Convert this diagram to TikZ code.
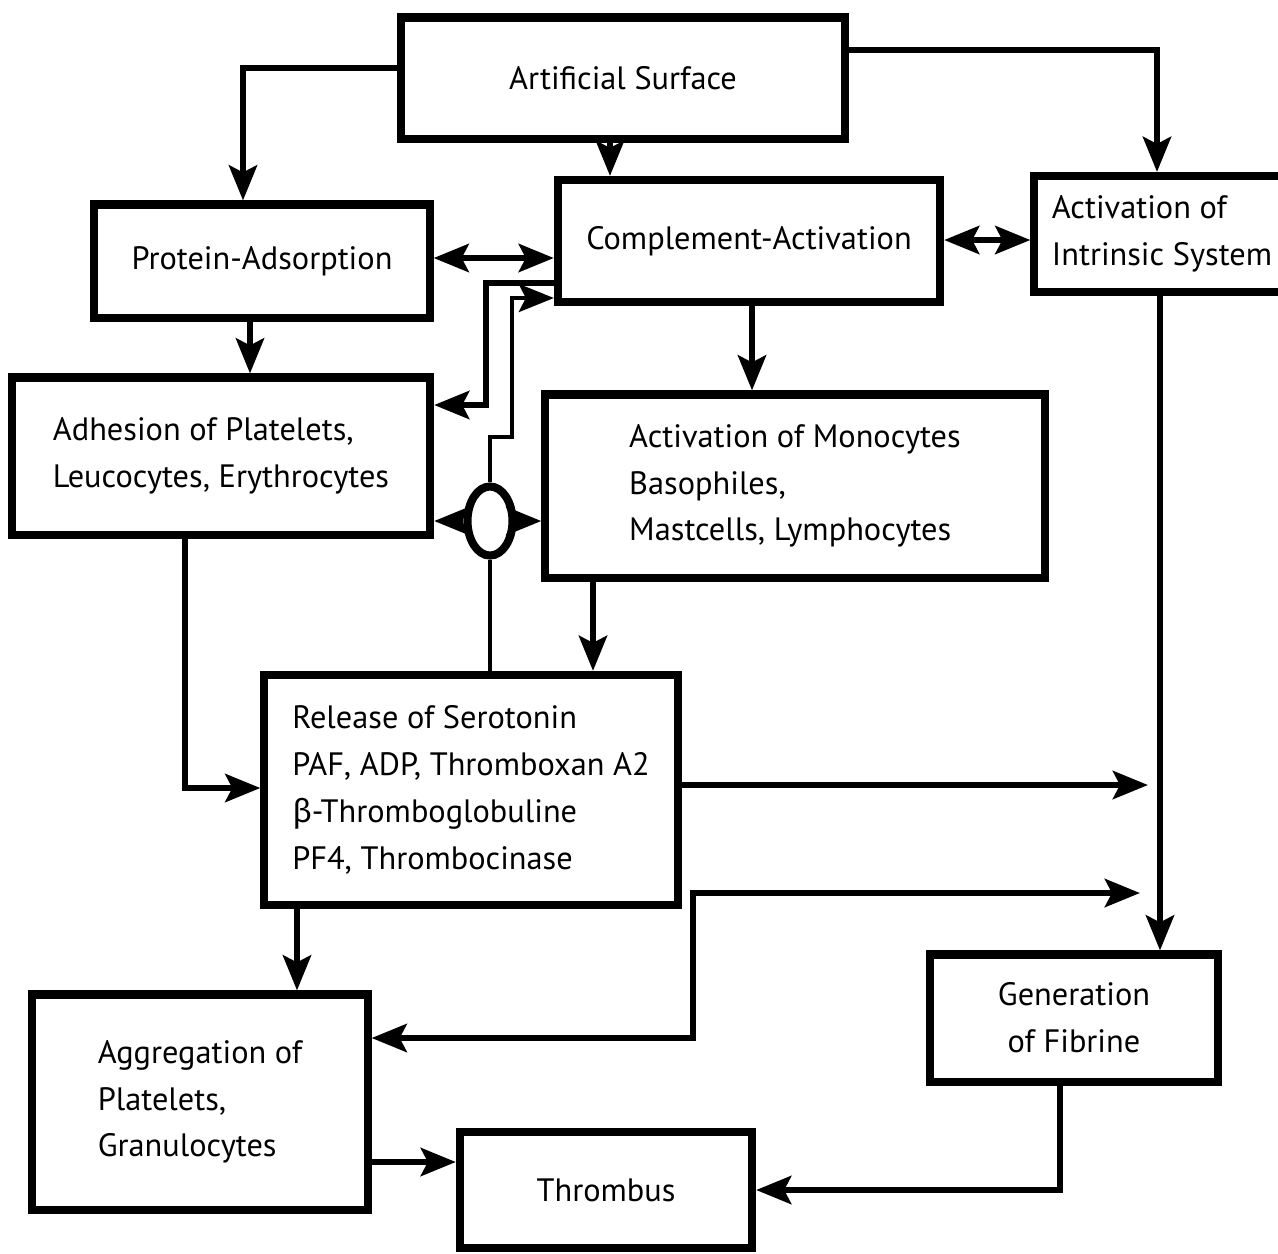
\documentclass[tikz,border=0pt]{standalone}
\usepackage{fontspec}
\setmainfont{PT Sans}
\newfontfamily\greekfont{Fira Sans}
\usetikzlibrary{arrows.meta,
	shapes.geometric}

\begin{document}
\begin{tikzpicture}[x=0.01cm, y=-0.01cm, >={Stealth[length=3.5mm,width=2.8mm,inset=0.7mm]}]
    \tikzstyle{box}=[draw, line width=2.3pt, rectangle, align=left, inner sep=0pt, font=\fontsize{9.2}{13.3}\selectfont]
    \tikzstyle{conn}=[line width=1.8pt]
    \tikzstyle{thinconn}=[line width=1.1pt]
    \useasboundingbox (0,0) rectangle (1278,1253);
    \node[box, minimum width=4.43cm, minimum height=1.21cm] (art) at (623,78) {Artificial Surface};
    \node[box, minimum width=3.35cm, minimum height=1.13cm] (prot) at (262,261) {Protein-Adsorption};
    \node[box, minimum width=3.82cm, minimum height=1.22cm] (comp) at (749,241) {Complement-Activation};
    \node[box, minimum width=2.55cm, minimum height=1.16cm] (intr) at (1162,234) {Activation of\\Intrinsic System};
    \node[box, minimum width=4.18cm, minimum height=1.57cm] (adh) at (221,456) {Adhesion of Platelets,\\Leucocytes, Erythrocytes};
    \node[box, minimum width=4.99cm, minimum height=1.83cm] (mono) at (795,486) {Activation of Monocytes\\Basophiles,\\Mastcells, Lymphocytes};
    \node[box, minimum width=4.13cm, minimum height=2.30cm] (rel) at (471,790) {Release of Serotonin\\PAF, ADP, Thromboxan A2\\{\greekfont β}-Thromboglobuline\\PF4, Thrombocinase};
    \node[box, minimum width=3.35cm, minimum height=2.15cm] (agg) at (200,1102) {Aggregation of\\Platelets,\\Granulocytes};
    \node[box, minimum width=2.92cm, minimum height=1.16cm] (thr) at (606,1190) {Thrombus};
    \node[box, align=center, minimum width=2.88cm, minimum height=1.27cm] (fib) at (1074,1018) {Generation\\of Fibrine};
    \node[draw, ellipse, line width=2.3pt, minimum width=0.45cm, minimum height=0.69cm, inner sep=0pt] (circ) at (490,521) {};
    \coordinate (out1) at (1148,785);
    \coordinate (out2) at (1140,893);

    \draw[conn,->] (art.west |- 0,68) -| (243,0 |- prot.north);
    \draw[conn,->] (610,0 |- art.south) -- (610,0 |- comp.north);
    \draw[conn,->] (art.east |- 0,50) -| (1157,0 |- intr.north);
    \draw[conn,<->] (prot.east |- 0,258) -- (comp.west |- 0,258);
    \draw[conn,<->] (comp.east |- 0,240) -- (intr.west |- 0,240);
    \draw[conn,->] (250,0 |- prot.south) -- (250,0 |- adh.north);
    \draw[conn,->] (752,0 |- comp.south) -- (752,0 |- mono.north);
    \draw[conn,->] (comp.west |- 0,283) -| (486,405) -- (adh.east |- 0,405);
    \draw[thinconn,->] (circ.north) -- (490,437) -| (512,298) -- (comp.west |- 0,298);
    \draw[conn,->] (circ.west) -- (adh.east |- circ);
    \draw[conn,->] (circ.east) -- (mono.west |- circ);
    \draw[thinconn] (circ.south) -- (circ.south |- rel.north);
    \draw[conn,->] (593,0 |- mono.south) -- (593,0 |- rel.north);
    \draw[conn,->] (185,0 |- adh.south) |- (rel.west |- 0,788);
    \draw[conn,->] (rel.east |- out1) -- (out1);
    \draw[conn,->] (297,0 |- rel.south) -- (297,0 |- agg.north);
    \draw[conn,<->] (agg.east |- 0,1038) -| (693,0 |- out2) -- (out2);
    \draw[conn,->] (1160,0 |- intr.south) -- (1160,0 |- fib.north);
    \draw[conn,->] (1060,0 |- fib.south) |- (thr.east |- 0,1190);
    \draw[conn,->] (agg.east |- 0,1162) -- (thr.west |- 0,1162);
\end{tikzpicture}
\end{document}
